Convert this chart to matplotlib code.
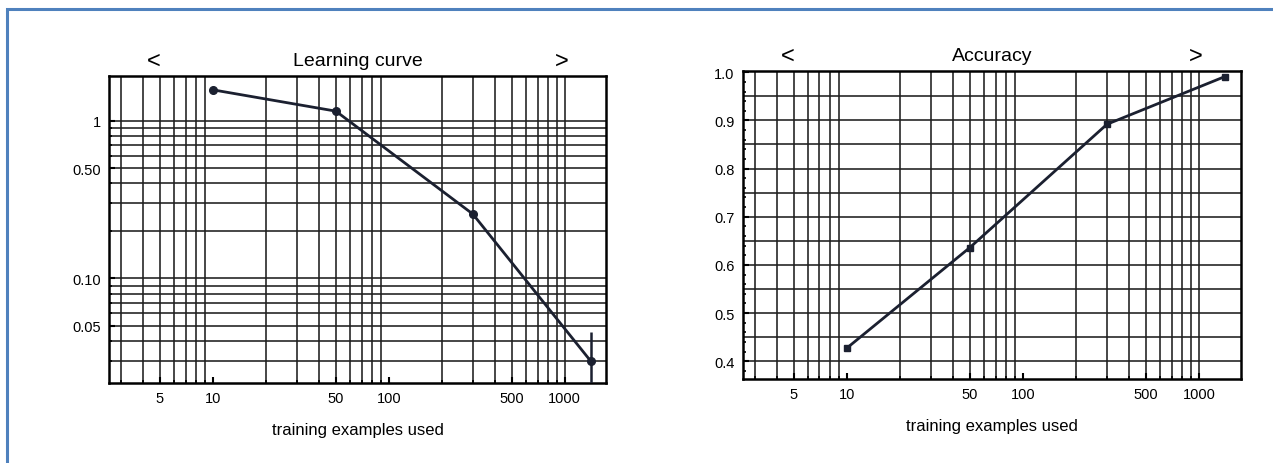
import numpy as np
import matplotlib
matplotlib.use("Agg")
import matplotlib.pyplot as plt
from matplotlib.ticker import FixedLocator, NullFormatter, FixedFormatter
from matplotlib.patches import Rectangle

plt.rcParams['font.family'] = ['Liberation Sans', 'DejaVu Sans']

# Data
train_sizes = [10, 50, 300, 1400]
loss_values = [1.57, 1.15, 0.256, 0.030]
loss_err_low = [0.0, 0.02, 0.012, 0.02]
loss_err_high = [0.0, 0.02, 0.012, 0.0156]
accuracy_values = [0.427, 0.636, 0.892, 0.991]

x_tick_values = [5, 10, 50, 100, 500, 1000]
x_tick_labels = ["5", "10", "50", "100", "500", "1000"]
loss_tick_values = [1, 0.5, 0.1, 0.05]
loss_tick_labels = ["1", "0.50", "0.10", "0.05"]
acc_tick_values = [0.4, 0.5, 0.6, 0.7, 0.8, 0.9, 1.0]
acc_tick_labels = ["0.4", "0.5", "0.6", "0.7", "0.8", "0.9", "1.0"]

line_color = "#1b2030"
grid_color = "#1e1e1e"

fig = plt.figure(figsize=(12.73, 4.64), dpi=100)

# Page frame
fig.add_artist(Rectangle((6.5 / 1273, -0.1), 1.2, 1.1 - 10 / 464,
                         transform=fig.transFigure, fill=False,
                         edgecolor="#4f81bd", linewidth=2.2, clip_on=False))

x_grid = [v * d for d in (1, 10, 100) for v in range(2, 10)] + [3, 4, 5, 6, 7, 8, 9, 1000]
x_grid = sorted(set([g for g in x_grid if 2.6 < g < 1720]))


def style_axes(ax):
    for s in ax.spines.values():
        s.set_linewidth(1.8)
        s.set_color("black")
    ax.tick_params(which="both", direction="in", length=4, width=1.5,
                   top=False, right=False, labelsize=10.5, pad=6)
    ax.tick_params(which="minor", length=2.5, width=1.2)
    for g in x_grid:
        ax.axvline(g, color=grid_color, linewidth=1.15, zorder=1)
    ax.set_xscale("log")
    ax.set_xlim(2.58, 1725)
    ax.xaxis.set_major_locator(FixedLocator(x_tick_values))
    ax.xaxis.set_major_formatter(FixedFormatter(x_tick_labels))
    ax.xaxis.set_minor_locator(FixedLocator(x_grid))
    ax.xaxis.set_minor_formatter(NullFormatter())
    ax.set_xlabel("training examples used", fontsize=12, labelpad=12)


def add_arrows(ax):
    ax.text(0.09, 1.05, "<", transform=ax.transAxes, fontsize=17,
            ha="center", va="center")
    ax.text(0.91, 1.05, ">", transform=ax.transAxes, fontsize=17,
            ha="center", va="center")


# Left panel: learning curve (log-log)
ax1 = fig.add_axes([0.0859, 0.1724, 0.3905, 0.6623])
style_axes(ax1)
ax1.set_yscale("log")
ax1.set_ylim(0.0217, 1.93)
y_grid = [v / 100 for v in range(3, 10)] + [v / 10 for v in range(1, 11)]
for g in y_grid:
    ax1.axhline(g, color=grid_color, linewidth=1.15, zorder=1)
ax1.yaxis.set_major_locator(FixedLocator(loss_tick_values))
ax1.yaxis.set_major_formatter(FixedFormatter(loss_tick_labels))
ax1.yaxis.set_minor_locator(FixedLocator([g for g in y_grid if g not in loss_tick_values]))
ax1.yaxis.set_minor_formatter(NullFormatter())
ax1.errorbar(train_sizes, loss_values, yerr=[loss_err_low, loss_err_high],
             color=line_color, linewidth=2.0, marker="o", markersize=5.5,
             elinewidth=1.8, capsize=0, zorder=3)
ax1.set_title("Learning curve", fontsize=14, pad=8)
add_arrows(ax1)

# Right panel: accuracy (log x, linear y)
ax2 = fig.add_axes([0.5837, 0.181, 0.391, 0.6632])
style_axes(ax2)
ax2.set_ylim(0.363, 1.002)
for g in np.arange(0.40, 1.0, 0.05):
    ax2.axhline(g, color=grid_color, linewidth=1.15, zorder=1)
ax2.yaxis.set_major_locator(FixedLocator(acc_tick_values))
ax2.yaxis.set_major_formatter(FixedFormatter(acc_tick_labels))
ax2.yaxis.set_minor_locator(FixedLocator(np.arange(0.36, 1.0, 0.02)))
ax2.plot(train_sizes, accuracy_values, color=line_color, linewidth=2.0,
         marker="s", markersize=5, zorder=3, clip_on=False)
ax2.set_title("Accuracy", fontsize=14, pad=8)
add_arrows(ax2)

fig.savefig("out.png", dpi=100)
